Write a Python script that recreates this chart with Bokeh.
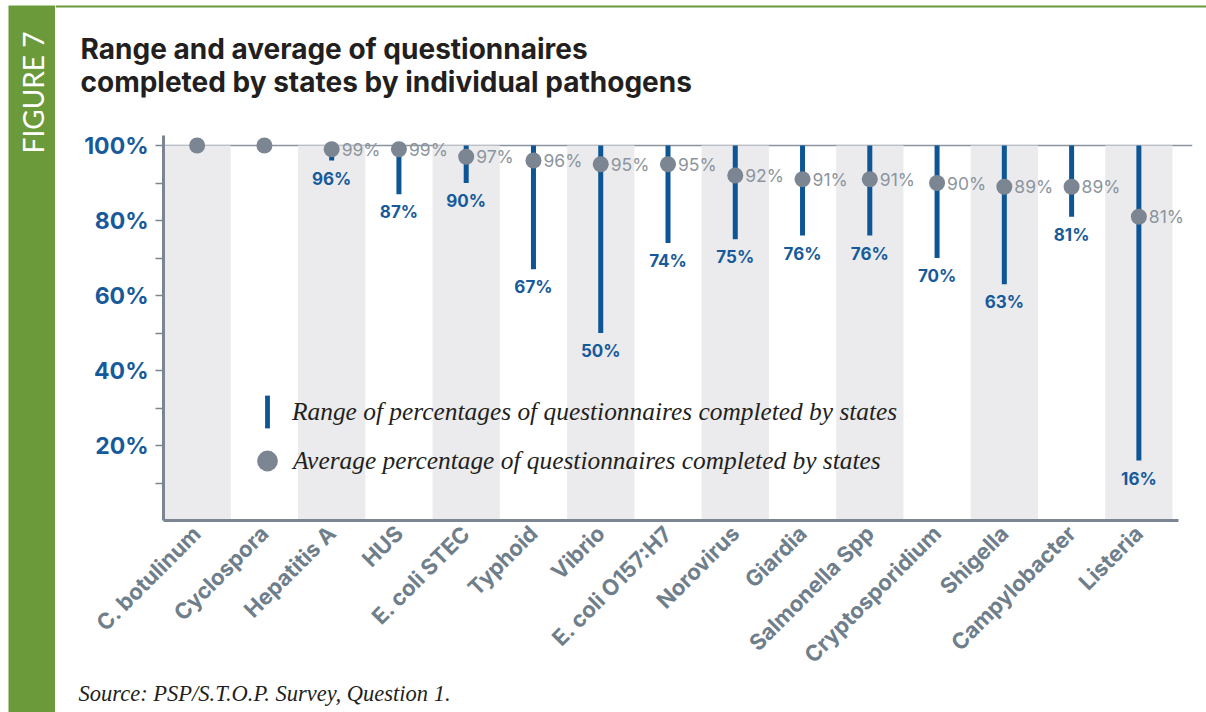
import math
from bokeh.plotting import figure
from bokeh.layouts import row, column
from bokeh.core.properties import value
from bokeh.models import (Range1d, FixedTicker, PrintfTickFormatter, ColumnDataSource,
                          LabelSet, Label, Legend, LegendItem)
from bokeh.embed import file_html
from bokeh.resources import INLINE

# ---------------- data ----------------
pathogens = ["C. botulinum", "Cyclospora", "Hepatitis A", "HUS", "E. coli STEC",
             "Typhoid", "Vibrio", "E. coli O157:H7", "Norovirus", "Giardia",
             "Salmonella Spp", "Cryptosporidium", "Shigella", "Campylobacter", "Listeria"]
avg_pct = [100, 100, 99, 99, 97, 96, 95, 95, 92, 91, 91, 90, 89, 89, 81]
min_pct = [100, 100, 96, 87, 90, 67, 50, 74, 75, 76, 76, 70, 63, 81, 16]
max_pct = [100, 100, 100, 100, 100, 100, 100, 100, 100, 100, 100, 100, 100, 100, 100]
y_ticks = [20, 40, 60, 80, 100]
y_minor_ticks = [10, 30, 50, 70, 90]

title_lines = ["Range and average of questionnaires",
               "completed by states by individual pathogens"]
figure_tag = "FIGURE 7"
legend_range_text = "Range of percentages of questionnaires completed by states"
legend_avg_text = "Average percentage of questionnaires completed by states"
source_note = "Source: PSP/S.T.O.P. Survey, Question 1."

# ---------------- styles / layout ----------------
TAG_FONT = "Lato"
SANS = "Inter"
SERIF = "Liberation Serif"
BLUE = "#0e5596"
BLUE_TXT = "#175a9b"
DOT = "#7b8692"
DOT_TXT = "#8c959e"
AXIS = "#7b8692"
XLAB = "#6f7e8b"
BAND = "#ebebed"
GREEN = "#6b9a3a"
DARK = "#231f20"

W, H = 1206, 712
BAND_W = 55                 # green side band column width
HEAD_H = 110                # title strip height
FOOT_H = 30                 # source strip height
MAIN_W = W - BAND_W
MAIN_H = H - HEAD_H - FOOT_H

AX_X = 163                  # y-axis x (canvas px)
FRAME_R = 1192              # main frame right edge (canvas px)
AXIS_R = 1178               # x-axis line right end
CAT_RIGHT = 1172
Y_ZERO = 520
Y_HUNDRED = 145
FRAME_T = 135
n = len(pathogens)
cat_w = (CAT_RIGHT - AX_X) / n
px_pct = (Y_ZERO - Y_HUNDRED) / 100.0


def fig(w, h, **kw):
    f = figure(width=w, height=h, output_backend="svg", toolbar_location=None, **kw)
    f.outline_line_color = None
    f.border_fill_color = "white"
    f.background_fill_color = "white"
    f.frame_align = False
    return f


def bare(f):
    f.xaxis.visible = False
    f.yaxis.visible = False
    f.xgrid.visible = False
    f.ygrid.visible = False
    return f


# ---------- green side band ----------
band = bare(fig(BAND_W, H, x_range=Range1d(0, 1), y_range=Range1d(0, 1),
                min_border_left=8, min_border_right=0, min_border_top=5, min_border_bottom=0))
band.background_fill_color = GREEN
band.add_layout(Label(x=32 - 8, y=H - 92, x_units="screen", y_units="screen",
                      text=figure_tag, angle=math.pi / 2, text_align="center",
                      text_baseline="middle", text_font=TAG_FONT, text_font_size="28px",
                      text_color="white"))

# ---------- title strip (data coords == canvas px) ----------
head = bare(fig(MAIN_W, HEAD_H, x_range=Range1d(BAND_W, W), y_range=Range1d(HEAD_H, 0),
                min_border_left=0, min_border_right=0, min_border_top=0, min_border_bottom=0))
head.hspan(y=[5.5], line_color=GREEN, line_width=2)
for i, line in enumerate(title_lines):
    head.add_layout(Label(x=80, y=48 + 33 * i, text=line, text_align="left",
                          text_baseline="alphabetic", text_font=SANS,
                          text_font_style="bold", text_font_size="28px", text_color=DARK))

# ---------- source strip ----------
foot = bare(fig(MAIN_W, FOOT_H, x_range=Range1d(BAND_W, W), y_range=Range1d(H, H - FOOT_H),
                min_border_left=0, min_border_right=0, min_border_top=0, min_border_bottom=0))
foot.add_layout(Label(x=78, y=693, text=source_note, text_align="left",
                      text_baseline="alphabetic", text_font=SERIF, text_font_style="italic",
                      text_font_size="22.5px", text_color=DARK))

# ---------- main chart ----------
x_end = (FRAME_R - AX_X) / cat_w
y_end = 100 + (Y_HUNDRED - FRAME_T) / px_pct
p = fig(MAIN_W, MAIN_H, x_range=Range1d(0, x_end), y_range=Range1d(0, y_end),
        min_border_left=AX_X - BAND_W, min_border_right=W - FRAME_R,
        min_border_top=FRAME_T - HEAD_H, min_border_bottom=HEAD_H + MAIN_H - Y_ZERO)
p.xgrid.visible = False


def sx(cx):
    return cx - AX_X


def sy(cy):
    return Y_ZERO - cy


x_centers = [i + 0.5 for i in range(n)]
band_left = [i for i in range(n) if i % 2 == 0]
band_right = [i + 1 for i in band_left]
band_bottom = [0] * len(band_left)
band_top = [100] * len(band_left)

src = ColumnDataSource(dict(
    x=x_centers, avg=avg_pct, lo=min_pct, hi=max_pct,
    avg_label=[f"{v}%" if v < 100 else "" for v in avg_pct],
    min_label=[f"{v}%" if v < 100 else "" for v in min_pct],
))

# 100% reference line as a bounded grid line
p.ygrid.ticker = FixedTicker(ticks=[100])
p.ygrid.grid_line_color = "#8a949e"
p.ygrid.grid_line_width = 1.5
p.ygrid.bounds = (0, (AXIS_R - AX_X) / cat_w)

p.quad(left=band_left, right=band_right, bottom=band_bottom, top=band_top,
       fill_color=BAND, line_color=None)
bars = p.vbar(x="x", bottom="lo", top="hi", width=5 / cat_w, source=src,
              fill_color=BLUE, line_color=None)
dots = p.scatter(x="x", y="avg", size=16, source=src, fill_color=DOT, line_color=None)

p.add_layout(LabelSet(x="x", y="avg", text="avg_label", source=src, x_offset=10,
                      text_baseline="middle", text_align="left",
                      text_font=value(SANS), text_font_size=value("17.5px"),
                      text_color=DOT_TXT))
p.add_layout(LabelSet(x="x", y="lo", text="min_label", source=src, y_offset=-8,
                      text_baseline="top", text_align="center",
                      text_font=value(SANS), text_font_size=value("17px"),
                      text_font_style=value("bold"), text_color=BLUE_TXT))

xa = p.xaxis[0]
xa.ticker = FixedTicker(ticks=x_centers)
xa.major_label_overrides = {x: name for x, name in zip(x_centers, pathogens)}
xa.major_label_orientation = math.pi / 4
xa.bounds = (0, (AXIS_R - AX_X) / cat_w)
xa.major_tick_out = 0
xa.major_tick_in = 0
xa.minor_tick_out = 0
xa.minor_tick_in = 0
xa.axis_line_color = AXIS
xa.axis_line_width = 3
xa.major_label_text_font = SANS
xa.major_label_text_font_style = "bold"
xa.major_label_text_font_size = "22px"
xa.major_label_text_color = XLAB
xa.major_label_standoff = 9

ya = p.yaxis[0]
ya.ticker = FixedTicker(ticks=y_ticks, minor_ticks=y_minor_ticks)
ya.formatter = PrintfTickFormatter(format="%d%%")
ya.major_tick_out = 8
ya.major_tick_in = 0
ya.minor_tick_out = 8
ya.minor_tick_in = 0
ya.major_tick_line_color = AXIS
ya.minor_tick_line_color = AXIS
ya.major_tick_line_width = 1.5
ya.minor_tick_line_width = 1.5
ya.axis_line_color = AXIS
ya.axis_line_width = 3
ya.major_label_text_font = SANS
ya.major_label_text_font_style = "bold"
ya.major_label_text_font_size = "23px"
ya.major_label_text_color = BLUE_TXT
ya.major_label_standoff = 7

leg1 = Legend(items=[LegendItem(label=legend_range_text, renderers=[bars])],
              location=(sx(264), sy(432)), glyph_width=6, glyph_height=41,
              label_standoff=22, padding=0, margin=0, spacing=0,
              border_line_color=None, background_fill_alpha=0,
              label_text_font=SERIF, label_text_font_style="italic",
              label_text_font_size="25.4px", label_text_color=DARK)
leg2 = Legend(items=[LegendItem(label=legend_avg_text, renderers=[dots])],
              location=(sx(241), sy(488)), glyph_width=52, glyph_height=55,
              label_standoff=0, padding=0, margin=0, spacing=0,
              border_line_color=None, background_fill_alpha=0,
              label_text_font=SERIF, label_text_font_style="italic",
              label_text_font_size="25.4px", label_text_color=DARK)
p.add_layout(leg1)
p.add_layout(leg2)

layout = row(band, column(head, p, foot, spacing=0), spacing=0)
open("out.html", "w").write(file_html(layout, INLINE))
